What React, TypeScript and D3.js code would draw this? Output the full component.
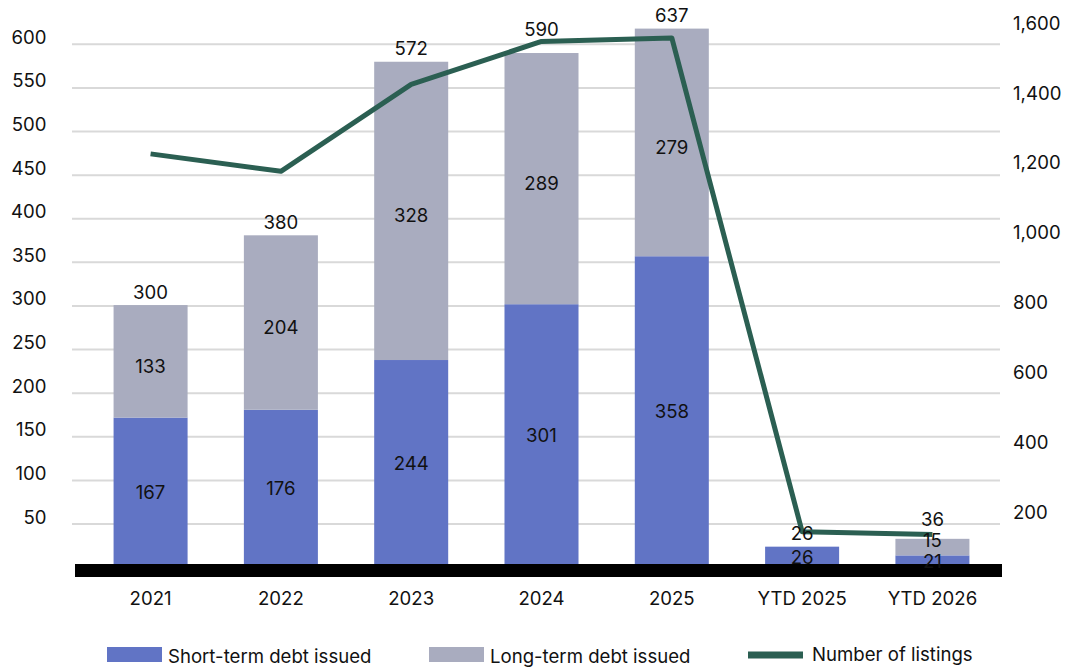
import React from "react";
import * as d3 from "d3";

const categories = ["2021", "2022", "2023", "2024", "2025", "YTD 2025", "YTD 2026"];
// bar heights as drawn in the picture
const shortTerm = [172, 181, 238, 302, 357, 24, 14];
const longTerm = [129, 200, 342, 288, 261, 0, 19];
// data labels as printed
const shortLabels = ["167", "176", "244", "301", "358", "26", "21"];
const longLabels = ["133", "204", "328", "289", "279", "", "15"];
const totalLabels = ["300", "380", "572", "590", "637", "26", "36"];
const listings = [1226, 1176, 1425, 1548, 1558, 144, 136];
const leftTicks = [50, 100, 150, 200, 250, 300, 350, 400, 450, 500, 550, 600];
const rightTicks = [200, 400, 600, 800, 1000, 1200, 1400, 1600];

const W = 1065;
const H = 668;
const FONT = "Inter, 'DejaVu Sans', sans-serif";
const FS = 18.6;
const BLUE = "#6174C5";
const GRAY = "#A9ACBF";
const GREEN = "#2B5F52";

export default function App() {
  const x = d3.scaleBand<string>().domain(categories).range([78, 1005]).paddingInner(0.432).paddingOuter(0.273);
  const y = d3.scaleLinear().domain([0, 600]).range([567.6, 44.3]);
  const yR = d3.scaleLinear().domain([0, 1600]).range([581.9, 23.3]);
  const bw = x.bandwidth();
  const cx = (c: string) => (x(c) as number) + bw / 2;

  const line = d3
    .line<number>()
    .x((_, i) => cx(categories[i]))
    .y((d) => yR(d));

  const labels: { x: number; y: number; t: string }[] = [];
  categories.forEach((c, i) => {
    const s = shortTerm[i];
    const l = longTerm[i];
    let yb = (y(0) + y(s)) / 2;
    labels.push({ x: cx(c), y: yb, t: shortLabels[i] });
    if (l > 0 && longLabels[i]) {
      let yl = (y(s) + y(s + l)) / 2 + 5;
      yl = Math.min(yl, yb - 21);
      labels.push({ x: cx(c), y: yl, t: longLabels[i] });
      yb = yl;
    }
    let yt = y(s + l) - 13;
    yt = Math.min(yt, yb - 21);
    const ly = yR(listings[i]);
    const barH = y(0) - y(s + l);
    if (barH > 60 && Math.abs(yt - ly) < 12) yt = ly - 12;
    labels.push({ x: cx(c), y: yt, t: totalLabels[i] });
  });

  return (
    <svg
      width={W}
      height={H}
      style={{ position: "absolute", left: 0, top: 0, background: "#fff" }}
      fontFamily={FONT}
    >
      {leftTicks.map((t) => (
        <g key={"g" + t}>
          <line x1={72} x2={1000} y1={y(t)} y2={y(t)} stroke="#d9d9d9" strokeWidth={2} />
          <text x={46.5} y={y(t) - 7} dy="0.35em" textAnchor="end" fontSize={FS} fill="#111">
            {t}
          </text>
        </g>
      ))}
      {rightTicks.map((t) => (
        <text key={"r" + t} x={1013} y={yR(t)} dy="0.35em" fontSize={FS} fill="#111">
          {d3.format(",")(t)}
        </text>
      ))}
      {categories.map((c, i) => (
        <g key={c}>
          <rect x={x(c)} width={bw} y={y(shortTerm[i])} height={y(0) - y(shortTerm[i])} fill={BLUE} />
          {longTerm[i] > 0 && (
            <rect
              x={x(c)}
              width={bw}
              y={y(shortTerm[i] + longTerm[i])}
              height={y(shortTerm[i]) - y(shortTerm[i] + longTerm[i])}
              fill={GRAY}
            />
          )}
          <text x={cx(c)} y={598} dy="0.35em" textAnchor="middle" fontSize={FS} fill="#111">
            {c}
          </text>
        </g>
      ))}
      <line x1={75} x2={1002} y1={y(0) + 3} y2={y(0) + 3} stroke="#000" strokeWidth={13} />
      <path d={line(listings) || ""} fill="none" stroke={GREEN} strokeWidth={5} strokeLinejoin="round" />
      {labels.map((l, i) => (
        <text key={"l" + i} x={l.x} y={l.y} dy="0.35em" textAnchor="middle" fontSize={FS} fill="#111">
          {l.t}
        </text>
      ))}
      <g fontSize={FS} fill="#111">
        <rect x={107} y={647} width={55} height={15} fill={BLUE} />
        <text x={168} y={656.5} dy="0.35em">Short-term debt issued</text>
        <rect x={429} y={647} width={55} height={15} fill={GRAY} />
        <text x={490} y={656.5} dy="0.35em">Long-term debt issued</text>
        <line x1={748} x2={803} y1={655} y2={655} stroke={GREEN} strokeWidth={7} />
        <text x={812} y={654} dy="0.35em">Number of listings</text>
      </g>
    </svg>
  );
}
